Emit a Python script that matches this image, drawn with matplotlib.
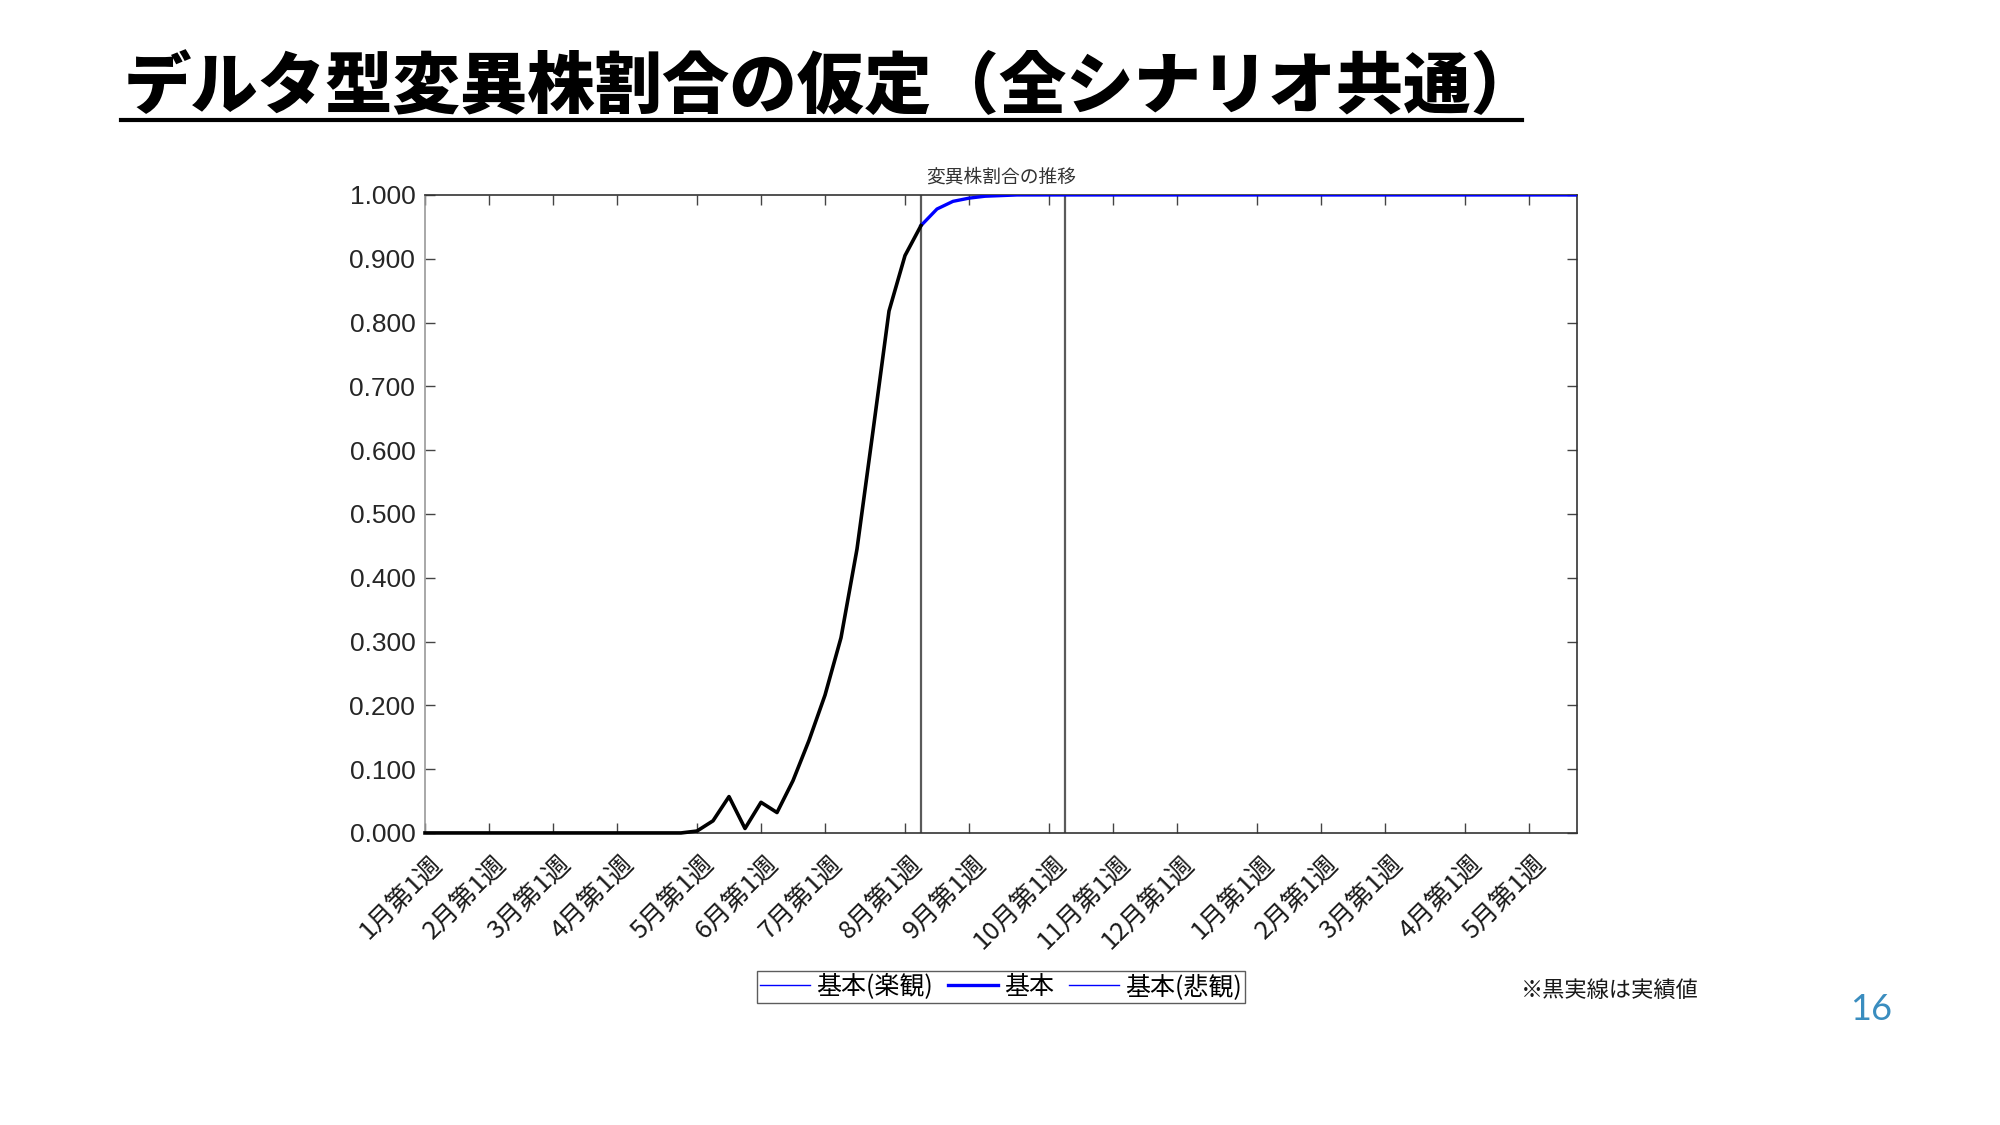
import matplotlib
matplotlib.use('Agg')
import matplotlib.pyplot as plt
from matplotlib.lines import Line2D
from matplotlib.transforms import ScaledTranslation

plt.rcParams['font.family'] = ['Noto Sans CJK JP', 'DejaVu Sans']

# データ(週番号: 0 = 1月第1週)
tick_weeks = [0, 4, 8, 12, 17, 21, 25, 30, 34, 39, 43, 47, 52, 56, 60, 65, 69]
tick_labels = ['1月第1週', '2月第1週', '3月第1週', '4月第1週', '5月第1週', '6月第1週',
               '7月第1週', '8月第1週', '9月第1週', '10月第1週', '11月第1週', '12月第1週',
               '1月第1週', '2月第1週', '3月第1週', '4月第1週', '5月第1週']

# 実績値(黒実線)
actual_weeks = list(range(0, 32))
actual = [0.0, 0.0, 0.0, 0.0, 0.0, 0.0, 0.0, 0.0, 0.0, 0.0,
          0.0, 0.0, 0.0, 0.0, 0.0, 0.0, 0.0, 0.003, 0.019, 0.057,
          0.007, 0.048, 0.032, 0.082, 0.145, 0.216, 0.306, 0.445, 0.630, 0.818,
          0.905, 0.952]

# 見通し(3シナリオとも同じ)
proj_weeks = list(range(31, 73))
optimistic = [0.952, 0.978, 0.990, 0.995, 0.998, 0.999, 1.0, 1.0, 1.0, 1.0,
              1.0, 1.0, 1.0, 1.0, 1.0, 1.0, 1.0, 1.0, 1.0, 1.0,
              1.0, 1.0, 1.0, 1.0, 1.0, 1.0, 1.0, 1.0, 1.0, 1.0,
              1.0, 1.0, 1.0, 1.0, 1.0, 1.0, 1.0, 1.0, 1.0, 1.0,
              1.0, 1.0]
base = [0.952, 0.978, 0.990, 0.995, 0.998, 0.999, 1.0, 1.0, 1.0, 1.0,
        1.0, 1.0, 1.0, 1.0, 1.0, 1.0, 1.0, 1.0, 1.0, 1.0,
        1.0, 1.0, 1.0, 1.0, 1.0, 1.0, 1.0, 1.0, 1.0, 1.0,
        1.0, 1.0, 1.0, 1.0, 1.0, 1.0, 1.0, 1.0, 1.0, 1.0,
        1.0, 1.0]
pessimistic = [0.952, 0.978, 0.990, 0.995, 0.998, 0.999, 1.0, 1.0, 1.0, 1.0,
               1.0, 1.0, 1.0, 1.0, 1.0, 1.0, 1.0, 1.0, 1.0, 1.0,
               1.0, 1.0, 1.0, 1.0, 1.0, 1.0, 1.0, 1.0, 1.0, 1.0,
               1.0, 1.0, 1.0, 1.0, 1.0, 1.0, 1.0, 1.0, 1.0, 1.0,
               1.0, 1.0]

vlines = [31, 40]
yticks = [0.0, 0.1, 0.2, 0.3, 0.4, 0.5, 0.6, 0.7, 0.8, 0.9, 1.0]

fig = plt.figure(figsize=(20, 11.25), dpi=100)
ax = fig.add_axes([0.2125, 0.2596, 0.576, 0.5671])

for v in vlines:
    ax.axvline(v, color='#5a5a5a', lw=1.6, zorder=1)

l1, = ax.plot(proj_weeks, optimistic, color='#0000ff', lw=1.0, zorder=2)
l2, = ax.plot(proj_weeks, base, color='#0000ff', lw=2.4, zorder=3)
l3, = ax.plot(proj_weeks, pessimistic, color='#0000ff', lw=1.0, zorder=2)
ax.plot(actual_weeks, actual, color='black', lw=2.6, zorder=4, clip_on=False)

ax.set_xlim(0, 72)
ax.set_ylim(0, 1.0)
ax.set_xticks(tick_weeks)
ax.set_xticklabels(tick_labels, rotation=45, ha='right', va='center',
                   rotation_mode='anchor', fontsize=18.5, color='#1a1a1a')
ax.set_yticks(yticks)
ax.set_yticklabels(['%.3f' % y for y in yticks], family='Liberation Sans',
                   fontsize=19, color='#262626')
ax.tick_params(axis='both', direction='in', length=7, width=1.0, color='#444444',
               top=True, right=True)
ax.tick_params(axis='x', pad=20)
ax.tick_params(axis='y', pad=7)
shift = ScaledTranslation(0.14, 0, fig.dpi_scale_trans)
for lab in ax.get_xticklabels():
    lab.set_transform(lab.get_transform() + shift)
for s in ['top', 'right', 'bottom']:
    ax.spines[s].set_color('#333333')
ax.spines['left'].set_color('#9a9a9a')
for s in ax.spines.values():
    s.set_linewidth(1.2)

ax.set_title('変異株割合の推移', fontsize=13.5, color='#333333', pad=9)

fig.legend([l1, l2, l3], ['基本(楽観)', '基本', '基本(悲観)'],
           loc='center', bbox_to_anchor=(0.5005, 0.1227), ncol=3,
           fontsize=18, frameon=True, fancybox=False, edgecolor='#333333',
           handlelength=2.0, handletextpad=0.25, columnspacing=0.6,
           borderpad=0.12, borderaxespad=0)

fig.text(0.805, 0.12, '※黒実線は実績値', fontsize=16, ha='center', va='center', color='#1a1a1a')
fig.text(0.9355, 0.103, '16', fontsize=26, ha='center', va='center',
         color='#3a8dbf', family='Lato')

fig.text(0.062, 0.922, 'デルタ型変異株割合の仮定（全シナリオ共通）', fontsize=48.5,
         fontweight='black', ha='left', va='center', color='black')
fig.add_artist(Line2D([0.0605, 0.761], [0.8933, 0.8933], color='black', lw=3.0,
                      transform=fig.transFigure))

fig.savefig('out.png', dpi=100)
